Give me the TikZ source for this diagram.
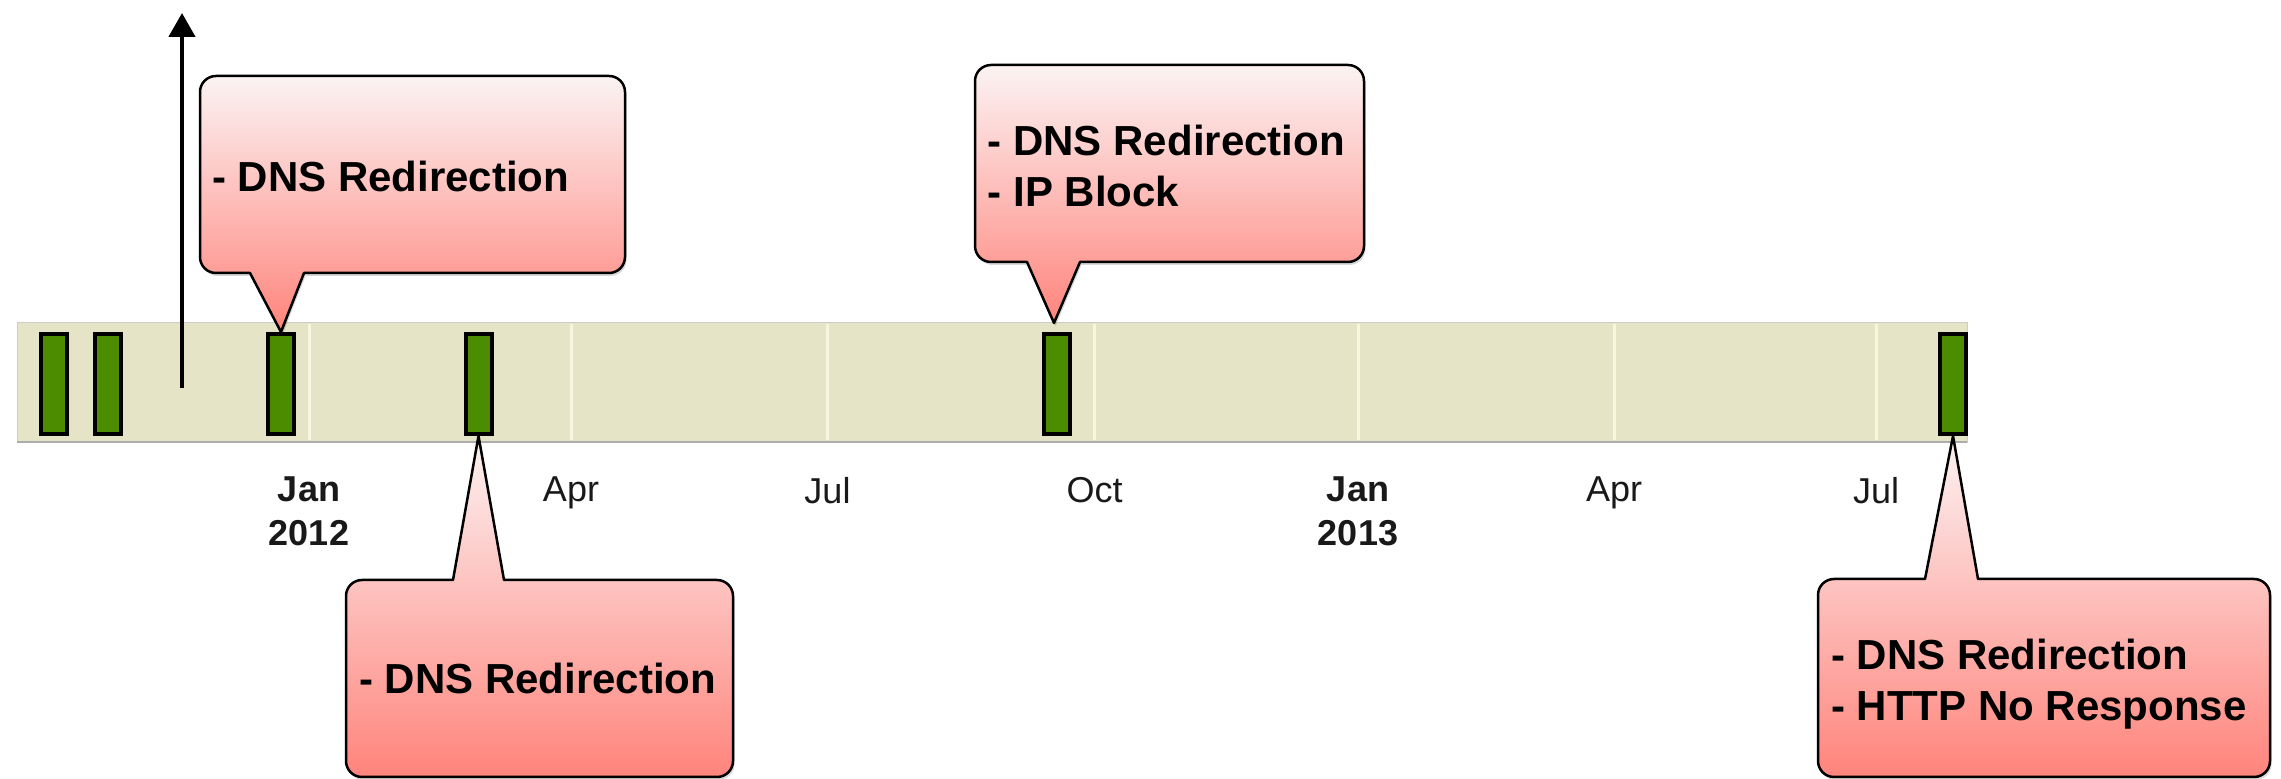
\documentclass[tikz,border=0pt]{standalone}
\usepackage{fontspec}
\setmainfont{Liberation Sans}
\usetikzlibrary{arrows.meta,calc}
\definecolor{bandfill}{HTML}{E5E4C7}
\definecolor{gridc}{HTML}{F8F6DE}
\definecolor{barg}{HTML}{4C8C00}
\definecolor{ctop}{HTML}{FBF3F3}
\definecolor{cbot}{HTML}{FF847C}
\begin{document}
\begin{tikzpicture}[x=1pt,y=1pt,
  bar/.style={draw=black, line width=4pt, fill=barg, minimum width=26pt, minimum height=100pt, inner sep=0pt},
  callout/.style={draw=black, line width=2.5pt, top color=ctop, bottom color=cbot, line join=round,
    preaction={fill=black, opacity=0.15, transform canvas={xshift=1.5pt, yshift=-3pt}}},
  ctext/.style={font=\bfseries\fontsize{42}{51}\selectfont, align=left, anchor=west, inner sep=0pt},
  month/.style={font=\fontsize{36}{44}\selectfont, anchor=north, inner sep=0pt, text=black!90, align=center},
  year/.style={month, font=\bfseries\fontsize{36}{44}\selectfont}
]
\useasboundingbox (0,0) rectangle (2281,779);
% timeline band
\path[fill=bandfill, draw=gray!40, line width=1pt] (17,336) rectangle (1967,456);
\draw[gray!65, line width=2.5pt] (17,337) -- (1967,337);
\foreach \gx in {309,571,827.5,1094.6,1358,1614,1876}
  \draw[gridc, line width=3pt] (\gx,339) -- (\gx,455);
% bars
\node[bar] (b1) at (54,395) {};
\node[bar] (b2) at (107.5,395) {};
\node[bar] (b3) at (281,395) {};
\node[bar] (b4) at (478.5,395) {};
\node[bar] (b5) at (1057,395) {};
\node[bar] (b6) at (1953,395) {};
% arrow
\coordinate (arrS) at (182,391);
\coordinate (arrE) at (182,766);
\draw[line width=4.5pt, -{Triangle[length=24pt,width=26pt]}] (arrS) -- (arrE);
% callout 1
\draw[callout] (250,506) -- (b3.north) -- (304,506) -- (609,506)
  arc[start angle=-90, end angle=0, radius=16] -- (625,687)
  arc[start angle=0, end angle=90, radius=16] -- (216,703)
  arc[start angle=90, end angle=180, radius=16] -- (200,522)
  arc[start angle=180, end angle=270, radius=16] -- cycle;
\node[ctext] (t1) at (212,603) {- DNS Redirection};
% callout 2
\coordinate (tip2) at ($(b5.north)+(-3,9)$);
\draw[callout] (1027,517) -- (tip2) -- (1080,517) -- (1348,517)
  arc[start angle=-90, end angle=0, radius=16] -- (1364,698)
  arc[start angle=0, end angle=90, radius=16] -- (991,714)
  arc[start angle=90, end angle=180, radius=16] -- (975,533)
  arc[start angle=180, end angle=270, radius=16] -- cycle;
\node[ctext] (t2) at (987.5,613) {- DNS Redirection\\- IP Block};
% callout 3
\draw[callout] (453,199) -- (b4.south) -- (504,199) -- (717,199)
  arc[start angle=90, end angle=0, radius=16] -- (733,18)
  arc[start angle=0, end angle=-90, radius=16] -- (362,2)
  arc[start angle=270, end angle=180, radius=16] -- (346,183)
  arc[start angle=180, end angle=90, radius=16] -- cycle;
\node[ctext] (t3) at (359,100.5) {- DNS Redirection};
% callout 4
\draw[callout] (1925,200) -- (b6.south) -- (1978,200) -- (2254,200)
  arc[start angle=90, end angle=0, radius=16] -- (2270,18)
  arc[start angle=0, end angle=-90, radius=16] -- (1834,2)
  arc[start angle=270, end angle=180, radius=16] -- (1818,184)
  arc[start angle=180, end angle=90, radius=16] -- cycle;
\node[ctext] (t4) at (1831,95) {- DNS Redirection\\- HTTP No Response};
% month labels
\node[year] (m1) at (309,302) {Jan\\2012};
\node[month] (m2) at (571,302) {Apr};
\node[month] (m3) at (827.5,302) {Jul};
\node[month] (m4) at (1094.6,302) {Oct};
\node[year] (m5) at (1358,302) {Jan\\2013};
\node[month] (m6) at (1614,302) {Apr};
\node[month] (m7) at (1876,302) {Jul};
\end{tikzpicture}
\end{document}
